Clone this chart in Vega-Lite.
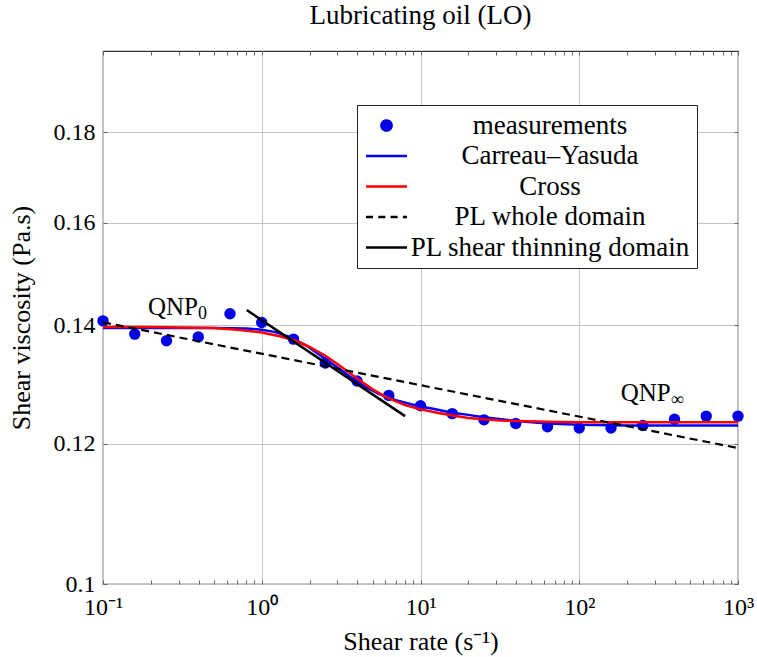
{
  "$schema": "https://vega.github.io/schema/vega-lite/v6.json",
  "width": 635,
  "height": 533,
  "autosize": {"type": "none"},
  "padding": {"left": 103, "top": 51, "right": 19, "bottom": 73},
  "background": "white",
  "title": {"text": "Lubricating oil (LO)", "font": "Liberation Serif", "fontSize": 27, "fontWeight": "normal", "anchor": "middle", "offset": 21, "color": "black"},
  "config": {"view": {"stroke": "#333333", "strokeWidth": 1.2}},
  "datasets": {
    "meas": [
      {"rate": 0.1, "viscosity": 0.1408, "series": "measurements"},
      {"rate": 0.158489, "viscosity": 0.1384, "series": "measurements"},
      {"rate": 0.251189, "viscosity": 0.1372, "series": "measurements"},
      {"rate": 0.398107, "viscosity": 0.1379, "series": "measurements"},
      {"rate": 0.630957, "viscosity": 0.1421, "series": "measurements"},
      {"rate": 1, "viscosity": 0.1405, "series": "measurements"},
      {"rate": 1.584893, "viscosity": 0.1375, "series": "measurements"},
      {"rate": 2.511886, "viscosity": 0.1333, "series": "measurements"},
      {"rate": 3.981072, "viscosity": 0.1302, "series": "measurements"},
      {"rate": 6.309573, "viscosity": 0.1278, "series": "measurements"},
      {"rate": 10, "viscosity": 0.1261, "series": "measurements"},
      {"rate": 15.84893, "viscosity": 0.1248, "series": "measurements"},
      {"rate": 25.11886, "viscosity": 0.1238, "series": "measurements"},
      {"rate": 39.81072, "viscosity": 0.1232, "series": "measurements"},
      {"rate": 63.09573, "viscosity": 0.1227, "series": "measurements"},
      {"rate": 100, "viscosity": 0.1225, "series": "measurements"},
      {"rate": 158.4893, "viscosity": 0.1225, "series": "measurements"},
      {"rate": 251.1886, "viscosity": 0.1229, "series": "measurements"},
      {"rate": 398.1072, "viscosity": 0.1239, "series": "measurements"},
      {"rate": 630.9573, "viscosity": 0.1244, "series": "measurements"},
      {"rate": 1000, "viscosity": 0.1244, "series": "measurements"}
    ],
    "cy": [
      {"rate": 0.1, "viscosity": 0.1395},
      {"rate": 0.5, "viscosity": 0.1395},
      {"rate": 0.8, "viscosity": 0.1394},
      {"rate": 1.0, "viscosity": 0.1392},
      {"rate": 1.2, "viscosity": 0.1388},
      {"rate": 1.5, "viscosity": 0.1379},
      {"rate": 1.9, "viscosity": 0.1364},
      {"rate": 2.4, "viscosity": 0.1344},
      {"rate": 3.0, "viscosity": 0.1325},
      {"rate": 3.7, "viscosity": 0.1307},
      {"rate": 4.5, "viscosity": 0.1292},
      {"rate": 5.5, "viscosity": 0.1280},
      {"rate": 7.0, "viscosity": 0.1270},
      {"rate": 9.5, "viscosity": 0.1261},
      {"rate": 12, "viscosity": 0.1256},
      {"rate": 15.5, "viscosity": 0.1250},
      {"rate": 20, "viscosity": 0.1246},
      {"rate": 25, "viscosity": 0.1242},
      {"rate": 40, "viscosity": 0.1236},
      {"rate": 63, "viscosity": 0.1232},
      {"rate": 100, "viscosity": 0.1230},
      {"rate": 200, "viscosity": 0.1229},
      {"rate": 1000, "viscosity": 0.1229}
    ],
    "cross": [
      {"rate": 0.1, "viscosity": 0.1397},
      {"rate": 0.2, "viscosity": 0.1397},
      {"rate": 0.3, "viscosity": 0.1396},
      {"rate": 0.5, "viscosity": 0.1395},
      {"rate": 0.7, "viscosity": 0.1392},
      {"rate": 1.0, "viscosity": 0.1387},
      {"rate": 1.3, "viscosity": 0.1380},
      {"rate": 1.6, "viscosity": 0.1373},
      {"rate": 2.0, "viscosity": 0.1361},
      {"rate": 2.5, "viscosity": 0.1346},
      {"rate": 3.0, "viscosity": 0.1331},
      {"rate": 3.5, "viscosity": 0.1318},
      {"rate": 4.0, "viscosity": 0.1306},
      {"rate": 5.0, "viscosity": 0.1288},
      {"rate": 6.0, "viscosity": 0.1276},
      {"rate": 7.0, "viscosity": 0.1268},
      {"rate": 8.0, "viscosity": 0.1262},
      {"rate": 10, "viscosity": 0.1255},
      {"rate": 13, "viscosity": 0.1249},
      {"rate": 16, "viscosity": 0.1245},
      {"rate": 20, "viscosity": 0.1241},
      {"rate": 25, "viscosity": 0.1239},
      {"rate": 32, "viscosity": 0.1237},
      {"rate": 40, "viscosity": 0.1236},
      {"rate": 63, "viscosity": 0.1235},
      {"rate": 100, "viscosity": 0.1234},
      {"rate": 1000, "viscosity": 0.1234}
    ],
    "plw": [
      {"rate": 0.1, "viscosity": 0.14054},
      {"rate": 1000, "viscosity": 0.11934}
    ],
    "pls": [
      {"rate": 0.804, "viscosity": 0.1428},
      {"rate": 7.99, "viscosity": 0.1244}
    ],
    "ann": [
      {"rate": 0.1921, "viscosity": 0.1419, "main": "QNP", "sub": "0"},
      {"rate": 182.4, "viscosity": 0.12689, "main": "QNP", "sub": "∞"}
    ]
  },
  "layer": [
    {
      "data": {"name": "meas"},
      "mark": {"type": "point", "filled": false, "size": 100, "strokeWidth": 2.5, "opacity": 0},
      "encoding": {
        "x": {
          "field": "rate", "type": "quantitative",
          "scale": {"type": "log", "domain": [0.1, 1000], "nice": false},
          "axis": {
            "orient": "bottom",
            "title": "Shear rate (s⁻¹)",
            "values": [0.1,0.2,0.3,0.4,0.5,0.6,0.7,0.8,0.9,1,2,3,4,5,6,7,8,9,10,20,30,40,50,60,70,80,90,100,200,300,400,500,600,700,800,900,1000],
            "labelExpr": "abs(log(datum.value)/LN10 - round(log(datum.value)/LN10)) < 0.001 ? ['10⁻¹','10⁰','10¹','10²','10³'][round(log(datum.value)/LN10)+1] : ''",
            "grid": true,
            "gridColor": "#c4c4c4",
            "gridWidth": 1,
            "gridOpacity": {"condition": {"test": "abs(log(datum.value)/LN10 - round(log(datum.value)/LN10)) < 0.001", "value": 1}, "value": 0},
            "tickSize": -4,
            "tickColor": "#666666",
            "domain": false,
            "labelPadding": 15,
            "labelFont": "Liberation Serif",
            "labelFontSize": 24,
            "labelColor": "black",
            "labelFlush": false,
            "labelOverlap": false,
            "titleFont": "Liberation Serif",
            "titleFontSize": 26,
            "titleFontWeight": "normal",
            "titleColor": "black",
            "titlePadding": 9
          }
        },
        "y": {
          "field": "viscosity", "type": "quantitative",
          "scale": {"type": "log", "domain": [0.1, 0.2], "nice": false},
          "axis": {
            "orient": "left",
            "title": "Shear viscosity (Pa.s)",
            "values": [0.1, 0.12, 0.14, 0.16, 0.18],
            "labelExpr": "format(datum.value, '.2~f')",
            "grid": true,
            "gridColor": "#c4c4c4",
            "gridWidth": 1,
            "tickSize": -4,
            "tickColor": "#666666",
            "domain": false,
            "labelPadding": 12,
            "labelFont": "Liberation Serif",
            "labelFontSize": 24,
            "labelColor": "black",
            "labelFlush": false,
            "labelOverlap": false,
            "titleFont": "Liberation Serif",
            "titleFontSize": 26,
            "titleFontWeight": "normal",
            "titleColor": "black",
            "titlePadding": 19
          }
        },
        "color": {
          "field": "series", "type": "nominal",
          "scale": {
            "domain": ["measurements", "Carreau–Yasuda", "Cross", "PL whole domain", "PL shear thinning domain"],
            "range": ["#0000e6", "#0000ff", "#ff0000", "#000000", "#000000"]
          },
          "legend": {
            "orient": "none",
            "legendX": 254,
            "legendY": 54,
            "title": null,
            "symbolSize": 100,
            "symbolOffset": 9,
            "symbolStrokeWidth": 2.5,
            "symbolOpacity": 1,
            "labelFont": "Liberation Serif",
            "labelFontSize": 27,
            "labelColor": "black",
            "labelAlign": "center",
            "labelOffset": 150,
            "labelLimit": 500,
            "fillColor": "white",
            "strokeColor": "#222222",
            "padding": 7,
            "rowPadding": 2.5
          }
        },
        "shape": {
          "field": "series", "type": "nominal",
          "scale": {
            "domain": ["measurements", "Carreau–Yasuda", "Cross", "PL whole domain", "PL shear thinning domain"],
            "range": [
              "M-0.06,0A0.06,0.06 0 1,0 0.06,0A0.06,0.06 0 1,0 -0.06,0M-0.3,0A0.3,0.3 0 1,0 0.3,0A0.3,0.3 0 1,0 -0.3,0M-0.54,0A0.54,0.54 0 1,0 0.54,0A0.54,0.54 0 1,0 -0.54,0M-0.78,0A0.78,0.78 0 1,0 0.78,0A0.78,0.78 0 1,0 -0.78,0M-1.02,0A1.02,1.02 0 1,0 1.02,0A1.02,1.02 0 1,0 -1.02,0",
              "M-4.1,0L4.1,0",
              "M-4.1,0L4.1,0",
              "M-4.1,0L4.1,0",
              "M-4.1,0L4.1,0"
            ]
          }
        },
        "strokeDash": {
          "field": "series", "type": "nominal",
          "scale": {
            "domain": ["measurements", "Carreau–Yasuda", "Cross", "PL whole domain", "PL shear thinning domain"],
            "range": [[1, 0], [1, 0], [1, 0], [7, 5.3], [1, 0]]
          }
        }
      }
    },
    {
      "data": {"name": "meas"},
      "mark": {"type": "point", "filled": true, "size": 130, "opacity": 1, "color": "#0000e6"},
      "encoding": {
        "x": {"field": "rate", "type": "quantitative", "axis": null},
        "y": {"field": "viscosity", "type": "quantitative", "axis": null}
      }
    },
    {
      "data": {"name": "cy"},
      "mark": {"type": "line", "color": "#0000ff", "strokeWidth": 2.5, "clip": true},
      "encoding": {
        "x": {"field": "rate", "type": "quantitative", "axis": null},
        "y": {"field": "viscosity", "type": "quantitative", "axis": null}
      }
    },
    {
      "data": {"name": "cross"},
      "mark": {"type": "line", "color": "#ff0000", "strokeWidth": 2.5, "clip": true},
      "encoding": {
        "x": {"field": "rate", "type": "quantitative", "axis": null},
        "y": {"field": "viscosity", "type": "quantitative", "axis": null}
      }
    },
    {
      "data": {"name": "plw"},
      "mark": {"type": "line", "color": "#000000", "strokeWidth": 2.2, "strokeDash": [8, 5], "clip": true},
      "encoding": {
        "x": {
          "field": "rate", "type": "quantitative",
          "axis": {
            "orient": "top",
            "title": null,
            "values": [0.1,0.2,0.3,0.4,0.5,0.6,0.7,0.8,0.9,1,2,3,4,5,6,7,8,9,10,20,30,40,50,60,70,80,90,100,200,300,400,500,600,700,800,900,1000],
            "labels": false,
            "grid": false,
            "domain": false,
            "tickSize": -4,
            "tickColor": "#666666"
          }
        },
        "y": {
          "field": "viscosity", "type": "quantitative",
          "axis": {
            "orient": "right",
            "title": null,
            "values": [0.1, 0.12, 0.14, 0.16, 0.18],
            "labels": false,
            "grid": false,
            "domain": false,
            "tickSize": -4,
            "tickColor": "#666666"
          }
        }
      }
    },
    {
      "data": {"name": "pls"},
      "mark": {"type": "line", "color": "#000000", "strokeWidth": 2.5, "clip": true},
      "encoding": {
        "x": {"field": "rate", "type": "quantitative", "axis": null},
        "y": {"field": "viscosity", "type": "quantitative", "axis": null}
      }
    },
    {
      "data": {"name": "ann"},
      "mark": {"type": "text", "align": "left", "baseline": "alphabetic", "font": "Liberation Serif", "fontSize": 25, "color": "black"},
      "encoding": {
        "x": {"field": "rate", "type": "quantitative", "axis": null},
        "y": {"field": "viscosity", "type": "quantitative", "axis": null},
        "text": {"field": "main"}
      }
    },
    {
      "data": {"name": "ann"},
      "mark": {"type": "text", "align": "left", "baseline": "alphabetic", "font": "Liberation Serif", "fontSize": 18, "color": "black", "dx": 50, "dy": 4},
      "encoding": {
        "x": {"field": "rate", "type": "quantitative", "axis": null},
        "y": {"field": "viscosity", "type": "quantitative", "axis": null},
        "text": {"field": "sub"}
      }
    }
  ],
  "resolve": {"axis": {"x": "independent", "y": "independent"}}
}
